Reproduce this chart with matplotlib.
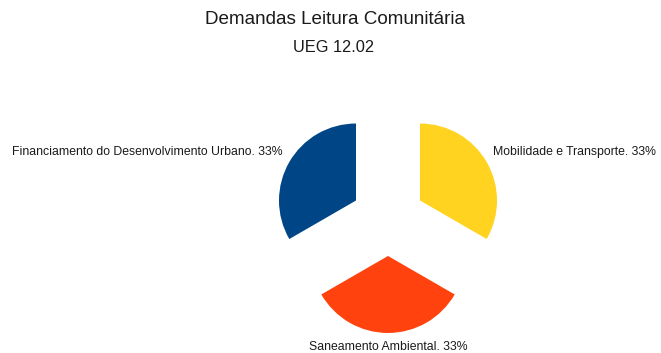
import numpy as np
import matplotlib.pyplot as plt

plt.rcParams['font.family'] = ['Liberation Sans', 'DejaVu Sans']

categories = ['Financiamento do Desenvolvimento Urbano', 'Saneamento Ambiental', 'Mobilidade e Transporte']
values = [1, 1, 1]
colors = ['#004586', '#ff420e', '#ffd320']
title = 'Demandas Leitura Comunitária'
subtitle = 'UEG 12.02'

W, H, DPI = 661, 353, 100
R_PX = 77.0              # pie radius in pixels
CX, CY = 388, 219        # pie centre in pixels (from top-left)
EXPLODE = 0.48

fig = plt.figure(figsize=(W / DPI, H / DPI), dpi=DPI)
ax = fig.add_axes([0, 0, 1, 1])

wedges, _ = ax.pie(values, colors=colors, startangle=90, counterclock=True,
                   explode=[EXPLODE] * len(values), radius=1.0,
                   wedgeprops=dict(linewidth=0), frame=True)
ax.set_xlim(-CX / R_PX, (W - CX) / R_PX)
ax.set_ylim(-(H - CY) / R_PX, CY / R_PX)
ax.set_aspect('equal')
ax.axis('off')

total = sum(values)
for w, cat, v in zip(wedges, categories, values):
    theta = np.deg2rad((w.theta1 + w.theta2) / 2)
    cx, cy = w.center
    x = cx + 1.1 * np.cos(theta)
    y = cy + 1.1 * np.sin(theta)
    c = np.cos(theta)
    ha = 'left' if c > 0.1 else ('right' if c < -0.1 else 'center')
    va = 'bottom' if np.sin(theta) > 0 else 'top'
    ax.text(x, y, f'{cat}. {round(100 * v / total)}%', ha=ha, va=va,
            fontsize=8.8, color='#1a1a1a')

fig.text(335 / W, 1 - 20 / H, title, ha='center', va='center', fontsize=13.6, color='#1a1a1a')
fig.text(334 / W, 1 - 47 / H, subtitle, ha='center', va='center', fontsize=11.8, color='#1a1a1a')

fig.savefig('out.png', dpi=DPI, facecolor='white')
